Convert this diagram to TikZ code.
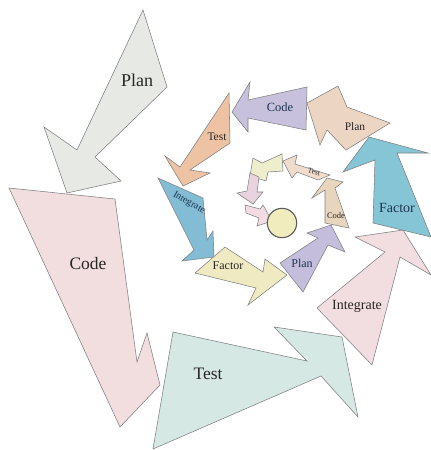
\documentclass[tikz,border=0pt]{standalone}
\usepackage{fontspec}
\setmainfont{Liberation Serif}
\definecolor{edge}{HTML}{7F8080}
\definecolor{ink}{HTML}{2A2626}
\definecolor{navy}{HTML}{1E3550}
\definecolor{cPlanA}{HTML}{E6E9E4}
\definecolor{cCodeA}{HTML}{F3DEDF}
\definecolor{cTestA}{HTML}{D6E8E4}
\definecolor{cIntA}{HTML}{F2DDE0}
\definecolor{cFacA}{HTML}{86C5D5}
\definecolor{cPlanB}{HTML}{EDD5C3}
\definecolor{cCodeB}{HTML}{C8C1DD}
\definecolor{cTestB}{HTML}{EDC3A4}
\definecolor{cIntB}{HTML}{82BCD5}
\definecolor{cFacB}{HTML}{EFEAC1}
\definecolor{cPlanC}{HTML}{C4BEDC}
\definecolor{cCodeC}{HTML}{E8D5BD}
\definecolor{cTestC}{HTML}{F0DCCD}
\definecolor{cSmA}{HTML}{EEEDCC}
\definecolor{cSmB}{HTML}{E9D3DE}
\definecolor{cSmC}{HTML}{F2DBE2}
\definecolor{cCore}{HTML}{F1ECBD}
\tikzset{
  arr/.style={draw=edge, line width=0.55pt, line join=miter},
  lbl/.style={text=ink, inner sep=0pt},
}
\newcommand{\fs}[1]{\fontsize{#1}{#1}\selectfont}
\begin{document}
\begin{tikzpicture}[x=1pt, y=-1pt]
\useasboundingbox (0,0) rectangle (431,450);

% outer turn
\draw[arr, fill=cPlanA] (143,10) -- (167,87) -- (95,157) -- (121,181) -- (67,193) -- (44,127) -- (77,150) -- cycle;
\draw[arr, fill=cCodeA] (9,188) -- (115,199) -- (137,362) -- (147,333) -- (160,385) -- (120,427) -- cycle;
\draw[arr, fill=cTestA] (153,449) -- (173,332) -- (307,361) -- (274,327) -- (342,337) -- (358,417) -- (321,376) -- cycle;
\draw[arr, fill=cIntA] (317,308) -- (372,365) -- (400,257) -- (431,275) -- (403,230) -- (355,237) -- (385,252) -- cycle;
\draw[arr, fill=cFacA] (373,223) -- (431,237) -- (397,153) -- (428,153) -- (369,137) -- (343,172) -- (375,160) -- cycle;

% middle turn
\draw[arr, fill=cPlanB] (390,123) -- (347,107) -- (338,86) -- (307,103) -- (320,145) -- (327,130) -- (346,150) -- cycle;
\draw[arr, fill=cCodeB] (307,87) -- (248,100) -- (250,82) -- (232,112) -- (248,132) -- (248,118) -- (306,130) -- cycle;
\draw[arr, fill=cTestB] (229,93) -- (230,143) -- (190,170) -- (210,173) -- (183,186) -- (165,156) -- (180,167) -- cycle;
\draw[arr, fill=cIntB] (158,178) -- (203,198) -- (207,240) -- (213,231) -- (214,257) -- (182,261) -- (194,250) -- cycle;
\draw[arr, fill=cFacB] (195,273) -- (225,247) -- (263,272) -- (265,259) -- (287,275) -- (248,305) -- (256,288) -- cycle;
\draw[arr, fill=cPlanC] (280,263) -- (303,292) -- (328,245) -- (345,252) -- (331,225) -- (307,233) -- (318,238) -- cycle;
\draw[arr, fill=cCodeC] (325,223) -- (349,228) -- (335,188) -- (343,182) -- (327,178) -- (312,198) -- (325,190) -- cycle;

% inner turn
\draw[arr, fill=cTestC] (330,175) -- (295,164) -- (297,155) -- (283,161) -- (292,178) -- (297,172) -- (318,180) -- cycle;
\draw[arr, fill=cSmA] (282,154) -- (262,163) -- (253,158) -- (250,176) -- (266,181) -- (268,172) -- (283,171) -- cycle;
\draw[arr, fill=cSmB] (250,173) -- (259,177) -- (257,192) -- (263,192) -- (253,204) -- (237,193) -- (247,191) -- cycle;
\draw[arr, fill=cSmC] (245,205) -- (260,209) -- (263,205) -- (272,221) -- (257,226) -- (259,218) -- (246,213) -- cycle;
\draw[draw=edge!70!black, line width=1.1pt, fill=cCore] (282,223) circle[radius=14.7];

% labels
\node[lbl, font=\fs{18}] (tPlanA) at (137,80) {Plan};
\node[lbl, font=\fs{17.5}] (tCodeA) at (88,264) {Code};
\node[lbl, font=\fs{17.5}] (tTestA) at (208,374) {Test};
\node[lbl, font=\fs{14}] (tIntA) at (357,306) {Integrate};
\node[lbl, font=\fs{14}, text=navy] (tFacA) at (397,208) {Factor};
\node[lbl, font=\fs{11.5}] (tPlanB) at (355,127) {Plan};
\node[lbl, font=\fs{12.5}, text=navy] (tCodeB) at (280,107) {Code};
\node[lbl, font=\fs{11.5}] (tTestB) at (217,137) {Test};
\node[lbl, font=\fs{10}, text=navy, rotate=-30] (tIntB) at (189,203) {Integrate};
\node[lbl, font=\fs{12}] (tFacB) at (228,266) {Factor};
\node[lbl, font=\fs{12}, text=navy] (tPlanC) at (302,263) {Plan};
\node[lbl, font=\fs{8.5}] (tCodeC) at (336,216) {Code};
\node[lbl, font=\fs{7.5}, rotate=-15] (tTestC) at (314,172) {Test};
\end{tikzpicture}
\end{document}
